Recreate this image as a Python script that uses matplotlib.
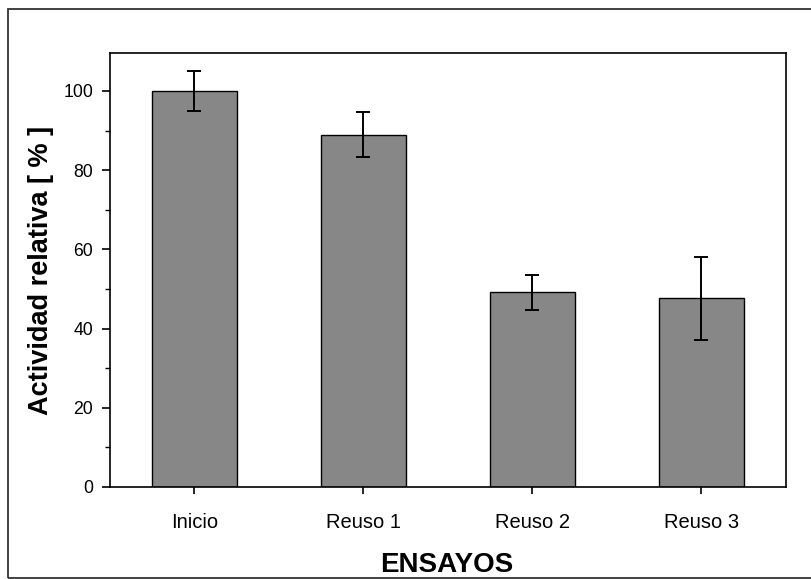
import matplotlib
matplotlib.use("Agg")
import matplotlib.pyplot as plt
from matplotlib.patches import Rectangle

plt.rcParams['font.family'] = ['Liberation Sans', 'DejaVu Sans']

ensayos = ["Inicio", "Reuso 1", "Reuso 2", "Reuso 3"]
actividad = [100.0, 89.0, 49.2, 47.6]
error = [5.0, 5.6, 4.4, 10.6]

fig = plt.figure(figsize=(8.11, 5.79), dpi=100)
ax = fig.add_axes([0.1356, 0.1589, 0.8335, 0.7496])

x = range(len(ensayos))
ax.bar(x, actividad, width=0.5, color='#878787', edgecolor='black', linewidth=1.0, zorder=2)
ax.errorbar(x, actividad, yerr=error, fmt='none', ecolor='black', elinewidth=1.4,
            capsize=4.7, capthick=1.4, zorder=3)

ax.set_xlim(-0.5, 3.5)
ax.set_ylim(0, 109.6)
ax.set_yticks([0, 20, 40, 60, 80, 100])
ax.set_yticks(range(10, 110, 20), minor=True)
ax.set_xticks(list(x))
ax.set_xticklabels(ensayos)

for s in ax.spines.values():
    s.set_linewidth(1.2)
ax.tick_params(axis='y', which='major', direction='out', length=6, width=1.2, pad=6, labelsize=12.7)
ax.tick_params(axis='y', which='minor', direction='out', length=3.5, width=1.0)
ax.tick_params(axis='x', direction='out', length=5, width=1.2, pad=14, labelsize=14.5)

ax.set_ylabel("Actividad relativa [ % ]", fontsize=19.5, fontweight='bold')
ax.yaxis.set_label_coords(-0.083, 0.5)
fig.text(0.551, 0.024, "ENSAYOS", fontsize=20, fontweight='bold', ha='center', va='center')

# outer frame around the figure
fig.patches.append(Rectangle((0.0099, 0.0017), 1.1, 0.9828, transform=fig.transFigure,
                             fill=False, edgecolor='#333333', linewidth=1.3))

fig.savefig("out.png", dpi=100)
